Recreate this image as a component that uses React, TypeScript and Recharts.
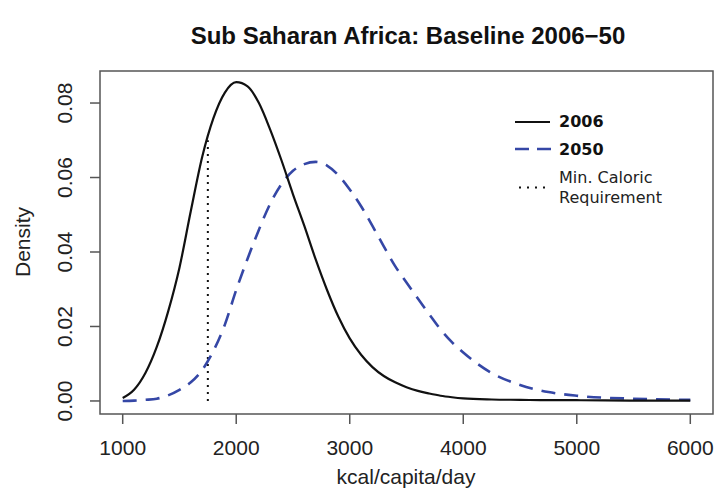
import {
  ComposedChart,
  Legend,
  Line,
  ReferenceArea,
  ReferenceLine,
  XAxis,
  YAxis,
} from "recharts";

// density curves (kcal/capita/day -> density)
const KCAL = [
  1000, 1100, 1200, 1300, 1400, 1500, 1600, 1700, 1800, 1900, 2000, 2100, 2200, 2300, 2400,
  2500, 2600, 2700, 2800, 2900, 3000, 3100, 3200, 3300, 3400, 3500, 3600, 3700, 3800, 3900,
  4000, 4250, 4500, 4750, 5000, 5500, 6000,
];
const D2006 = [
  0.0008, 0.003, 0.0075, 0.0145, 0.024, 0.0358, 0.051, 0.0655, 0.076, 0.0828, 0.0856, 0.0845,
  0.08, 0.0728, 0.0645, 0.0555, 0.047, 0.038, 0.0298, 0.0226, 0.0168, 0.0124, 0.0091, 0.0067,
  0.005, 0.0037, 0.0027, 0.002, 0.0014, 0.001, 0.0007, 0.0004, 0.0003, 0.0002, 0.0002,
  0.0001, 0.0001,
];
const D2050 = [
  0.0, 0.0001, 0.0003, 0.0006, 0.0015, 0.003, 0.005, 0.0083, 0.0135, 0.0205, 0.0298, 0.0382,
  0.046, 0.053, 0.0583, 0.0618, 0.0636, 0.0642, 0.0632, 0.0606, 0.0568, 0.0523, 0.047, 0.0415,
  0.0362, 0.0318, 0.0275, 0.0233, 0.0192, 0.0158, 0.013, 0.0075, 0.0043, 0.0024, 0.0014,
  0.0006, 0.0003,
];
const MIN_CAL = 1750;
const MIN_CAL_TOP = 0.07;

const X_TICKS = [1000, 2000, 3000, 4000, 5000, 6000];
const Y_TICKS = [0, 0.02, 0.04, 0.06, 0.08];
const X_DOMAIN: [number, number] = [800, 6200];
const Y_DOMAIN: [number, number] = [-0.0035, 0.0886];

const TITLE = "Sub Saharan Africa: Baseline 2006\u221250";
const X_LABEL = "kcal/capita/day";
const Y_LABEL = "Density";

const BLUE = "#3547a6";
const FONT = "'Liberation Sans', Arial, Helvetica, sans-serif";
const LEG_FONT = "'DejaVu Sans', Verdana, sans-serif";

const data = KCAL.map((k, i) => ({ kcal: k, y2006: D2006[i], y2050: D2050[i] }));

function XTick(props: any) {
  const { x, y, payload } = props;
  return (
    <text x={x} y={y + 15} textAnchor="middle" fill="#222" fontSize={21} fontFamily={FONT}>
      {payload.value}
    </text>
  );
}

function YTick(props: any) {
  const { x, y, payload } = props;
  return (
    <text
      x={x}
      y={y}
      transform={`rotate(-90 ${x} ${y})`}
      textAnchor="middle"
      fill="#222"
      fontSize={21}
      fontFamily={FONT}
    >
      {Number(payload.value).toFixed(2)}
    </text>
  );
}

function LegendBox() {
  return (
    <svg width={200} height={110} style={{ display: "block" }}>
      <line x1={10} x2={45} y1={17} y2={17} stroke="#111" strokeWidth={2.2} />
      <text x={54} y={22} fontSize={16} fontWeight="bold" fontFamily={LEG_FONT} fill="#111">
        2006
      </text>
      <line
        x1={10}
        x2={46}
        y1={44}
        y2={44}
        stroke={BLUE}
        strokeWidth={2.5}
        strokeDasharray="14 8"
      />
      <text x={54} y={50} fontSize={16} fontWeight="bold" fontFamily={LEG_FONT} fill="#111">
        2050
      </text>
      <line
        x1={14}
        x2={44}
        y1={82.5}
        y2={82.5}
        stroke="#111"
        strokeWidth={2}
        strokeDasharray="2 6"
      />
      <text x={54} y={78} fontSize={16} fontFamily={LEG_FONT} fill="#222">
        Min. Caloric
      </text>
      <text x={54} y={98} fontSize={16} fontFamily={LEG_FONT} fill="#222">
        Requirement
      </text>
    </svg>
  );
}

export default function App() {
  return (
    <div style={{ position: "absolute", left: 0, top: 0, width: 721, height: 489, background: "#fff" }}>
      <ComposedChart
        width={721}
        height={489}
        data={data}
        margin={{ top: 71, right: 8, bottom: 0, left: 0 }}
      >
        <XAxis
          dataKey="kcal"
          type="number"
          domain={X_DOMAIN}
          ticks={X_TICKS}
          allowDataOverflow
          axisLine={false}
          tickLine={{ stroke: "#555", strokeWidth: 1.5 }}
          tickSize={10}
          tickMargin={16}
          height={75}
          tick={<XTick />}
          interval={0}
        />
        <YAxis
          type="number"
          domain={Y_DOMAIN}
          ticks={Y_TICKS}
          allowDataOverflow
          axisLine={false}
          tickLine={{ stroke: "#555", strokeWidth: 1.5 }}
          tickSize={10}
          tickMargin={17.5}
          width={100}
          tick={<YTick />}
          interval={0}
        />
        <ReferenceArea
          x1={X_DOMAIN[0]}
          x2={X_DOMAIN[1]}
          y1={Y_DOMAIN[0]}
          y2={Y_DOMAIN[1]}
          fill="none"
          fillOpacity={0}
          stroke="#555"
          strokeWidth={1.5}
          ifOverflow="visible"
        />
        <ReferenceLine
          segment={[
            { x: MIN_CAL, y: 0 },
            { x: MIN_CAL, y: MIN_CAL_TOP },
          ]}
          stroke="#111"
          strokeWidth={2}
          strokeDasharray="2 5"
        />
        <Line
          type="monotone"
          dataKey="y2050"
          stroke={BLUE}
          strokeWidth={2.6}
          strokeDasharray="14 9"
          dot={false}
          isAnimationActive={false}
        />
        <Line
          type="monotone"
          dataKey="y2006"
          stroke="#111"
          strokeWidth={2.2}
          dot={false}
          isAnimationActive={false}
        />
        <Legend
          layout="vertical"
          align="center"
          verticalAlign="middle"
          content={<LegendBox />}
          wrapperStyle={{ position: "absolute", left: 505, top: 105, width: 200, height: 110 }}
        />
      </ComposedChart>
      <svg
        width={721}
        height={489}
        style={{ position: "absolute", left: 0, top: 0, pointerEvents: "none" }}
      >
        <text x={408} y={44} textAnchor="middle" fontSize={24} fontWeight="bold" fontFamily={FONT} fill="#111">
          {TITLE}
        </text>
        <text x={406} y={484} textAnchor="middle" fontSize={21} fontFamily={FONT} fill="#222">
          {X_LABEL}
        </text>
        <text
          x={29.5}
          y={242}
          transform="rotate(-90 29.5 242)"
          textAnchor="middle"
          fontSize={21}
          fontFamily={FONT}
          fill="#222"
        >
          {Y_LABEL}
        </text>
      </svg>
    </div>
  );
}
